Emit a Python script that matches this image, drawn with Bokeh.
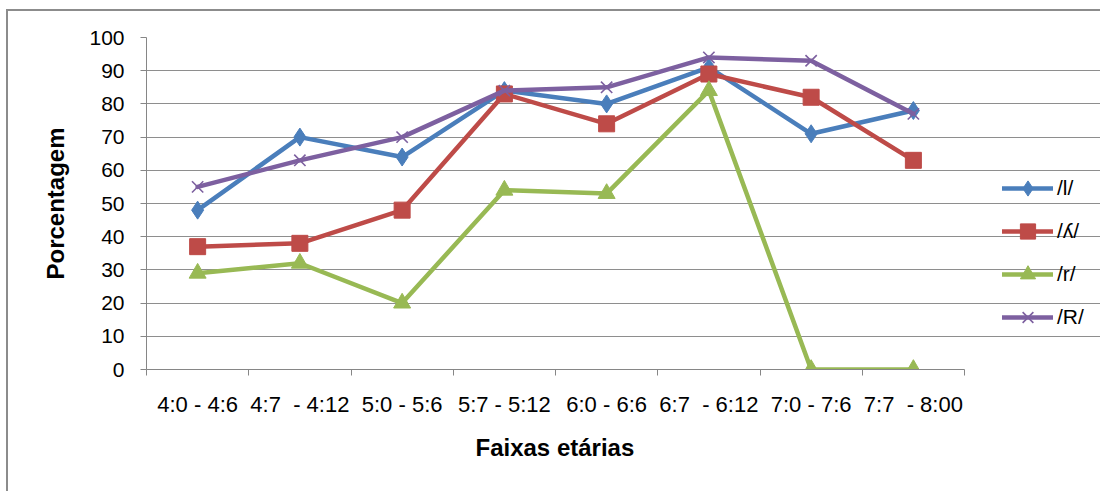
from bokeh.plotting import figure
from bokeh.models import Range1d, FixedTicker, Legend, LegendItem, Title
from bokeh.embed import file_html
from bokeh.resources import INLINE

# Age bands (x categories) and percentage of correct production per phoneme
faixas = [
    "4:0 - 4:6",
    "4:7\u2007- 4:12",
    "5:0 - 5:6",
    "5:7 - 5:12",
    "6:0 - 6:6",
    "6:7\u2007- 6:12",
    "7:0 - 7:6",
    "7:7\u2007- 8:00",
]
serie_l = [48, 70, 64, 84, 80, 91, 71, 78]
serie_lh = [37, 38, 48, 83, 74, 89, 82, 63]
serie_r = [29, 32, 20, 54, 53, 84, 0, 0]
serie_rr = [55, 63, 70, 84, 85, 94, 93, 77]
nomes = ["/l/", "/\u028e/", "/r/", "/R/"]
yticks = list(range(0, 101, 10))

cores = ["#4A7EBB", "#BE4B48", "#98B954", "#7D60A0"]
marcadores = [("diamond", 18, 1), ("square", 16, 1), ("triangle", 17, 1), ("x", 16, 1.6)]

FONT = "Liberation Sans"
GRAY = "#868686"

n = len(faixas)
centros = [i + 0.5 for i in range(n)]
limites = list(range(n + 1))

# canvas geometry (px): plot area spans 138..956 horizontally, the rest of the
# width on the right is kept inside the frame so the legend can live there
W, H = 1094, 482
AREA_L, AREA_R = 138, 956
x_fim = n * (W - AREA_L) / (AREA_R - AREA_L)

p = figure(
    width=W, height=H,
    x_range=Range1d(0, x_fim), y_range=Range1d(0, 100),
    output_backend="svg", toolbar_location=None,
    min_border_left=AREA_L, min_border_right=0,
    min_border_top=26, min_border_bottom=124,
)
p.styles = {
    "margin-left": "6px",
    "margin-top": "9px",
    "border-left": "2px solid #8c8c8c",
    "border-top": "2px solid #8c8c8c",
}
p.outline_line_color = None
p.background_fill_color = "white"
p.border_fill_color = "white"

# y axis
ya = p.yaxis[0]
ya.ticker = FixedTicker(ticks=yticks)
ya.axis_line_color = GRAY
ya.major_tick_line_color = GRAY
ya.major_tick_out = 6
ya.major_tick_in = 0
ya.minor_tick_out = 0
ya.minor_tick_in = 0
ya.major_label_text_font = FONT
ya.major_label_text_font_size = "21px"
ya.major_label_text_color = "black"
ya.major_label_standoff = 16
ya.axis_label = "Porcentagem"
ya.axis_label_text_font = FONT
ya.axis_label_text_font_style = "bold"
ya.axis_label_text_font_size = "24px"
ya.axis_label_text_color = "black"
ya.axis_label_standoff = 17

# x axis: labels at band centres, tick marks at band boundaries
xa = p.xaxis[0]
xa.bounds = (0, n)
xa.ticker = FixedTicker(ticks=centros, minor_ticks=limites)
xa.major_label_overrides = {c: f for c, f in zip(centros, faixas)}
xa.axis_line_color = GRAY
xa.major_tick_out = 0
xa.major_tick_in = 0
xa.minor_tick_line_color = GRAY
xa.minor_tick_out = 6
xa.minor_tick_in = 0
xa.major_label_text_font = FONT
xa.major_label_text_font_size = "22px"
xa.major_label_text_color = "black"
xa.major_label_standoff = 16

# x axis title, left-aligned so that it sits centred under the plot area
p.add_layout(
    Title(
        text="Faixas etárias", align="left", offset=329,
        text_font=FONT, text_font_style="bold", text_font_size="24px",
        text_color="black", standoff=25,
    ),
    "below",
)

p.xgrid.visible = False
p.ygrid.ticker = FixedTicker(ticks=yticks)
p.ygrid.bounds = (0, n)
p.ygrid.grid_line_color = "#8E8E8E"
p.ygrid.grid_line_width = 1

itens = []
for nome, ys, cor, (mk, sz, lw) in zip(nomes, [serie_l, serie_lh, serie_r, serie_rr], cores, marcadores):
    linha = p.line(centros, ys, line_color=cor, line_width=4.5, line_join="round", line_cap="round")
    pontos = p.scatter(centros, ys, marker=mk, size=sz, fill_color=cor, line_color=cor, line_width=lw)
    itens.append(LegendItem(label=nome, renderers=[linha, pontos]))

legenda = Legend(
    items=itens, location=(856, 33), orientation="vertical",
    glyph_width=51, glyph_height=38, spacing=5, padding=0, margin=0,
    label_standoff=4, label_text_font=FONT, label_text_font_size="21px",
    label_text_color="black", border_line_color=None, background_fill_alpha=0,
)
p.add_layout(legenda)

open("out.html", "w").write(file_html(p, INLINE))
